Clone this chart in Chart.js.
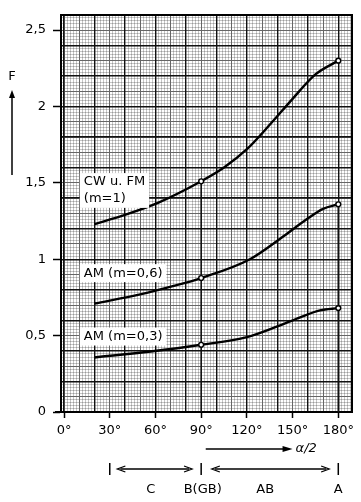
<!DOCTYPE html>
<html><head><meta charset="utf-8">
<script src="https://cdn.jsdelivr.net/npm/chart.js@4/dist/chart.umd.min.js"></script>
<style>html,body{margin:0;padding:0;background:#fff}#wrap{width:361px;height:502px}</style>
</head><body><div id="wrap"><canvas id="c" width="361" height="502"></canvas></div>
<script>
// ---- data ----
const anglesCW   = [20, 40, 62, 90, 105, 120, 135, 150, 165, 180];
const valuesCW   = [1.23, 1.29, 1.37, 1.51, 1.60, 1.72, 1.88, 2.05, 2.21, 2.30];
const anglesAM06 = [20, 50, 72, 90, 122, 144, 159, 170, 180];
const valuesAM06 = [0.71, 0.77, 0.825, 0.877, 1.00, 1.15, 1.26, 1.33, 1.36];
const anglesAM03 = [20, 57, 90, 120, 140, 155, 168, 180];
const valuesAM03 = [0.357, 0.396, 0.44, 0.49, 0.56, 0.62, 0.665, 0.68];
const markedAngles = [90, 180];
const seriesLabels = [['CW u. FM', '(m=1)'], ['AM (m=0,6)'], ['AM (m=0,3)']];
const labelAnchors = [[13, 1.505, 1.395], [13, 0.909], [13, 0.494]]; // [angle, F per line]
const xTickValues = [0, 30, 60, 90, 120, 150, 180];
const yTickValues = [0, 0.5, 1, 1.5, 2, 2.5];
const guideAngles = [90, 180];
const guideTops   = [1.51, 1.36];
const regionBounds = [30, 90, 180];
const regionArrows = [[35, 84], [97, 174]];
const regionNames  = ['C', 'B(GB)', 'AB', 'A'];
const regionNamePos = [57, 91, 132, 180];
const axisArrowRange = [93, 150];
const axisArrowLabel = 'α/2';
const yTitle = 'F';

const X_MIN = -2, X_MAX = 189, Y_MIN = 0, Y_MAX = 2.6;
const FONT = "'DejaVu Sans', sans-serif";

function pts(xs, ys) { return xs.map((x, i) => ({x: x, y: ys[i]})); }
function curve(xs, ys) {
  return {
    data: pts(xs, ys), borderColor: '#000', borderWidth: 2.4, cubicInterpolationMode: 'monotone',
    pointRadius: c => markedAngles.includes(c.raw.x) ? 2.4 : 0,
    pointBackgroundColor: '#fff', pointBorderColor: '#000', pointBorderWidth: 1.4,
    xAxisID: 'x', yAxisID: 'y', order: 0
  };
}
const datasets = [curve(anglesCW, valuesCW), curve(anglesAM06, valuesAM06), curve(anglesAM03, valuesAM03)];
guideAngles.forEach((a, i) => datasets.push({
  data: [{x: a, y: 0}, {x: a, y: guideTops[i]}], borderColor: '#111', borderWidth: 1.6,
  pointRadius: 0, xAxisID: 'x', yAxisID: 'y', order: 1
}));

function paperAxis(pos, step, color, width, z, frame, isX) {
  return {
    type: 'linear', position: pos, min: isX ? X_MIN : Y_MIN, max: isX ? X_MAX : Y_MAX,
    ticks: {display: false, stepSize: step, includeBounds: false, maxTicksLimit: 1000},
    grid: {display: true, drawTicks: false, color: color, lineWidth: width, z: z},
    border: {display: frame, color: '#000', width: 2}
  };
}

const annot = {
  id: 'annot',
  afterDatasetsDraw(chart) {
    const c = chart.ctx, xs = chart.scales.x, ys = chart.scales.y;
    c.save();
    c.font = '13px ' + FONT; c.fillStyle = '#000'; c.textBaseline = 'middle'; c.textAlign = 'left';
    seriesLabels.forEach((lines, i) => {
      const a = labelAnchors[i];
      const px = xs.getPixelForValue(a[0]);
      let w = 0; lines.forEach(t => w = Math.max(w, c.measureText(t).width));
      const top = ys.getPixelForValue(a[1]) - 9, bot = ys.getPixelForValue(a[lines.length]) + 9;
      c.fillStyle = '#fff'; c.fillRect(px - 4, top, w + 8, bot - top);
      c.fillStyle = '#000';
      lines.forEach((t, k) => c.fillText(t, px, ys.getPixelForValue(a[k + 1])));
    });
    c.restore();
  },
  afterDraw(chart) {
    const c = chart.ctx, xs = chart.scales.x;
    c.save();
    c.strokeStyle = '#000'; c.fillStyle = '#000'; c.lineWidth = 1.5;
    // y title with arrow
    c.font = '13px ' + FONT; c.textAlign = 'center'; c.textBaseline = 'middle';
    c.fillText(yTitle, 12, 77);
    c.beginPath(); c.moveTo(12, 175); c.lineTo(12, 94); c.stroke();
    c.beginPath(); c.moveTo(12, 90); c.lineTo(9, 98); c.lineTo(15, 98); c.closePath(); c.fill();
    // extension of the x axis line to the left of the frame
    c.lineWidth = 2; c.beginPath(); c.moveTo(55, chart.chartArea.bottom); c.lineTo(chart.chartArea.left, chart.chartArea.bottom); c.stroke();
    c.lineWidth = 1.5;
    // alpha/2 arrow
    const ay = 449;
    const a0 = xs.getPixelForValue(axisArrowRange[0]), a1 = xs.getPixelForValue(axisArrowRange[1]);
    c.beginPath(); c.moveTo(a0, ay); c.lineTo(a1 - 6, ay); c.stroke();
    c.beginPath(); c.moveTo(a1, ay); c.lineTo(a1 - 10, ay - 3); c.lineTo(a1 - 10, ay + 3); c.closePath(); c.fill();
    c.textAlign = 'left'; c.font = 'italic 13px ' + FONT;
    c.fillText(axisArrowLabel, a1 + 3, ay);
    // region bars
    const ry = 469;
    regionBounds.forEach(v => { const p = xs.getPixelForValue(v); c.beginPath(); c.moveTo(p, ry - 6); c.lineTo(p, ry + 6); c.stroke(); });
    regionArrows.forEach(r => {
      const p0 = xs.getPixelForValue(r[0]), p1 = xs.getPixelForValue(r[1]);
      c.lineWidth = 1.3;
      c.beginPath(); c.moveTo(p0 + 3, ry); c.lineTo(p1 - 3, ry); c.stroke();
      c.beginPath(); c.moveTo(p0 + 8, ry - 3); c.lineTo(p0, ry); c.lineTo(p0 + 8, ry + 3); c.stroke();
      c.beginPath(); c.moveTo(p1 - 8, ry - 3); c.lineTo(p1, ry); c.lineTo(p1 - 8, ry + 3); c.stroke();
    });
    c.font = '13px ' + FONT; c.textAlign = 'center';
    regionNames.forEach((t, i) => c.fillText(t, xs.getPixelForValue(regionNamePos[i]), 490));
    c.restore();
  }
};

new Chart(document.getElementById('c'), {
  type: 'line',
  data: {datasets: datasets},
  options: {
    responsive: false, animation: false, events: [],
    layout: {padding: {top: 12, right: 9, left: 0, bottom: 0}},
    plugins: {legend: {display: false}, tooltip: {enabled: false}},
    scales: {
      gx1: paperAxis('top', 2, 'rgba(0,0,0,0.22)', 1, -5, false, true),
      gy1: paperAxis('right', 0.02, 'rgba(0,0,0,0.22)', 1, -5, false, false),
      gx2: paperAxis('top', 10, '#666', 1, -4, false, true),
      gy2: paperAxis('right', 0.1, '#666', 1, -4, false, false),
      gx3: paperAxis('top', 20, '#111', 1.4, -3, true, true),
      gy3: paperAxis('right', 0.2, '#111', 1.4, -3, true, false),
      x: {
        type: 'linear', position: 'bottom', min: X_MIN, max: X_MAX,
        afterBuildTicks: s => { s.ticks = xTickValues.map(v => ({value: v})); },
        afterFit: s => { s.height = 90; },
        ticks: {color: '#000', font: {family: FONT, size: 13}, padding: 5, maxRotation: 0, autoSkip: false,
                callback: v => v + '°'},
        grid: {drawOnChartArea: false, drawTicks: true, tickLength: 6, tickColor: '#000', tickWidth: 1.5},
        border: {display: true, color: '#000', width: 2}
      },
      y: {
        type: 'linear', position: 'left', min: Y_MIN, max: Y_MAX,
        afterBuildTicks: s => { s.ticks = yTickValues.map(v => ({value: v})); },
        afterFit: s => { s.width = 61; },
        ticks: {color: '#000', font: {family: FONT, size: 13}, padding: 7, autoSkip: false,
                callback: v => String(v).replace('.', ',')},
        grid: {drawOnChartArea: false, drawTicks: true, tickLength: 8, tickColor: '#000', tickWidth: 1.5},
        border: {display: true, color: '#000', width: 2}
      }
    }
  },
  plugins: [annot]
});
</script></body></html>
